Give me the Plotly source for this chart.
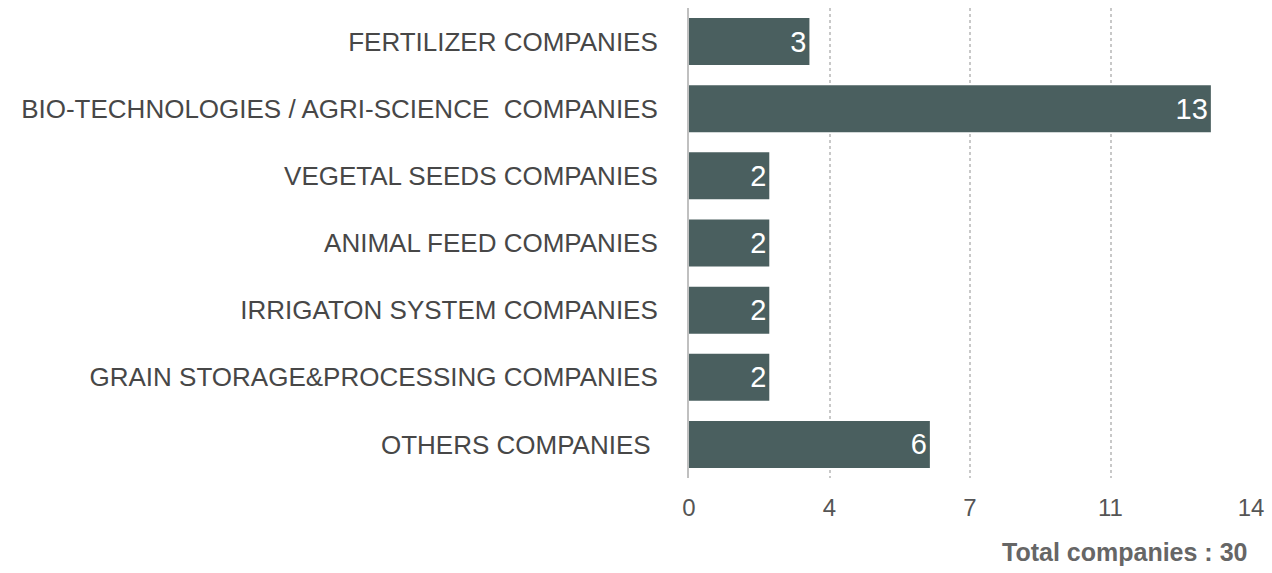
import plotly.graph_objects as go

categories = [
    "FERTILIZER COMPANIES",
    "BIO-TECHNOLOGIES / AGRI-SCIENCE  COMPANIES",
    "VEGETAL SEEDS COMPANIES",
    "ANIMAL FEED COMPANIES",
    "IRRIGATON SYSTEM COMPANIES",
    "GRAIN STORAGE&PROCESSING COMPANIES",
    "OTHERS COMPANIES ",
]
values = [3, 13, 2, 2, 2, 2, 6]
tick_values = [0, 3.5, 7, 10.5, 14]
tick_labels = ["0", "4", "7", "11", "14"]
total_label = "Total companies : 30"

FONT = "Liberation Sans, Arial, Helvetica, sans-serif"

fig = go.Figure(
    go.Bar(
        y=categories,
        x=values,
        orientation="h",
        marker=dict(color="#4a5f5f", line=dict(width=0)),
        text=[str(v) for v in values],
        textposition="inside",
        insidetextanchor="end",
        textfont=dict(color="white", size=29, family=FONT),
        constraintext="none",
        cliponaxis=False,
    )
)

fig.update_layout(
    width=1272,
    height=573,
    margin=dict(l=689, r=21, t=8, b=95),
    paper_bgcolor="white",
    plot_bgcolor="white",
    bargap=0.3,
    showlegend=False,
    font=dict(family=FONT, color="#555555"),
    xaxis=dict(
        range=[0, 14],
        tickvals=tick_values,
        ticktext=tick_labels,
        tickfont=dict(size=24, color="#555555"),
        showgrid=True,
        gridcolor="#c8c8c8",
        griddash="dot",
        gridwidth=1.5,
        zeroline=False,
        showline=False,
        ticks="",
        ticklabelstandoff=13,
        fixedrange=True,
    ),
    yaxis=dict(
        autorange="reversed",
        tickfont=dict(size=26, color="#474747"),
        showgrid=False,
        showline=True,
        linecolor="#c0c0c0",
        linewidth=2,
        ticks="",
        ticklabelstandoff=24,
        fixedrange=True,
    ),
    annotations=[
        dict(
            text="<b>" + total_label + "</b>",
            xref="paper",
            yref="paper",
            x=1.0,
            y=0,
            xanchor="right",
            yanchor="top",
            xshift=-2,
            yshift=-58,
            showarrow=False,
            font=dict(size=25, color="#666666", family=FONT),
        )
    ],
)

fig.write_html(
    "out.html",
    config={"displayModeBar": False},
    post_script="document.body.style.margin='0';",
)
